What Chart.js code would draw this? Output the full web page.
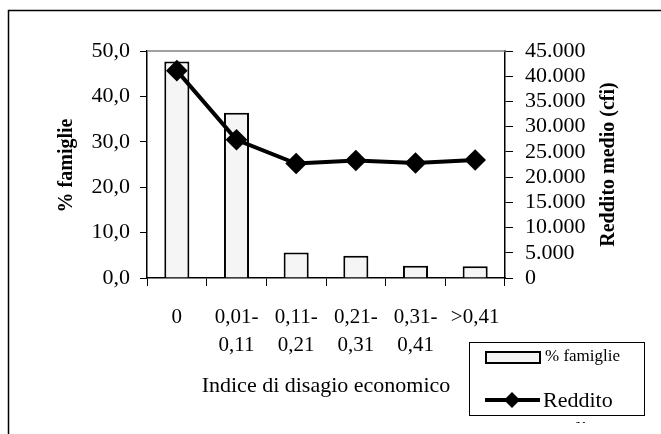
<!DOCTYPE html>
<html>
<head>
<meta charset="utf-8">
<script src="https://cdn.jsdelivr.net/npm/chart.js@4"></script>
<style>
  body { margin: 0; background: #fff; }
  canvas { display: block; }
</style>
</head>
<body>
<canvas id="chart" width="661" height="434"></canvas>
<script>
"use strict";

const categories = [["0"], ["0,01-", "0,11"], ["0,11-", "0,21"], ["0,21-", "0,31"], ["0,31-", "0,41"], [">0,41"]];
const famiglie = [47.7, 36.4, 5.6, 4.9, 2.7, 2.6];
const reddito = [41100, 27400, 22700, 23300, 22800, 23400];
const leftTicks = ["0,0", "10,0", "20,0", "30,0", "40,0", "50,0"];
const rightTicks = ["0", "5.000", "10.000", "15.000", "20.000", "25.000", "30.000", "35.000", "40.000", "45.000"];

const serif = "'Liberation Serif', 'DejaVu Serif', serif";

// frame, titles and the legend box are drawn by hand
const decorations = {
  id: "decorations",
  afterDraw(chart) {
    const ctx = chart.ctx;
    const area = chart.chartArea;
    ctx.save();

    // outer frame (runs off the right and bottom edges)
    ctx.strokeStyle = "#000";
    ctx.lineWidth = 1.5;
    ctx.beginPath();
    ctx.moveTo(8.5, 440);
    ctx.lineTo(8.5, 10.5);
    ctx.lineTo(670, 10.5);
    ctx.stroke();

    // grey top edge of the plot
    ctx.strokeStyle = "#808080";
    ctx.lineWidth = 1.5;
    ctx.beginPath();
    ctx.moveTo(area.left, area.top);
    ctx.lineTo(area.right, area.top);
    ctx.stroke();

    ctx.fillStyle = "#000";
    ctx.textAlign = "center";
    ctx.textBaseline = "middle";

    // axis titles
    ctx.font = "bold 20px " + serif;
    ctx.save();
    ctx.translate(67, (area.top + area.bottom) / 2 + 1);
    ctx.rotate(-Math.PI / 2);
    ctx.fillText("% famiglie", 0, 0);
    ctx.restore();

    ctx.save();
    ctx.translate(609, (area.top + area.bottom) / 2);
    ctx.rotate(-Math.PI / 2);
    ctx.fillText("Reddito medio (cfi)", 0, 0);
    ctx.restore();

    ctx.font = "22px " + serif;
    ctx.fillText("Indice di disagio economico", (area.left + area.right) / 2, 386);

    // legend
    ctx.fillStyle = "#fff";
    ctx.fillRect(469, 342, 175, 73);
    ctx.strokeStyle = "#000";
    ctx.lineWidth = 1;
    ctx.strokeRect(469.5, 342.5, 175, 73);

    ctx.fillStyle = "#f5f5f5";
    ctx.fillRect(486, 352, 54, 11);
    ctx.lineWidth = 2;
    ctx.strokeRect(486, 352, 54, 11);

    ctx.lineWidth = 4;
    ctx.beginPath();
    ctx.moveTo(485, 400);
    ctx.lineTo(540, 400);
    ctx.stroke();
    ctx.fillStyle = "#000";
    ctx.beginPath();
    ctx.moveTo(512, 392);
    ctx.lineTo(520, 400);
    ctx.lineTo(512, 408);
    ctx.lineTo(504, 400);
    ctx.closePath();
    ctx.fill();

    ctx.textAlign = "left";
    ctx.font = "17px " + serif;
    ctx.fillText("% famiglie", 545, 357);
    ctx.font = "22px " + serif;
    ctx.fillText("Reddito", 543, 401);

    // second line of the legend label is cut off just under the box
    ctx.save();
    ctx.beginPath();
    ctx.rect(469, 417, 200, 6);
    ctx.clip();
    ctx.textBaseline = "alphabetic";
    ctx.fillText("medio", 543, 436);
    ctx.restore();

    ctx.restore();
  }
};

const canvas = document.getElementById("chart");
new Chart(canvas, {
  data: {
    labels: categories,
    datasets: [
      {
        type: "line",
        label: "Reddito medio",
        data: reddito,
        yAxisID: "yRight",
        borderColor: "#000",
        backgroundColor: "#000",
        borderWidth: 4,
        tension: 0,
        pointStyle: "rectRot",
        pointRadius: 8,
        order: 0
      },
      {
        type: "bar",
        label: "% famiglie",
        data: famiglie,
        yAxisID: "yLeft",
        backgroundColor: "#f5f5f5",
        borderColor: "#000",
        borderWidth: 2,
        categoryPercentage: 1,
        barPercentage: 0.42,
        order: 1
      }
    ]
  },
  options: {
    responsive: false,
    animation: false,
    layout: { padding: { top: 51, left: 0, right: 0, bottom: 0 } },
    plugins: {
      legend: { display: false },
      tooltip: { enabled: false }
    },
    scales: {
      x: {
        afterFit: (scale) => { scale.height = 156; },
        grid: { offset: true, drawOnChartArea: false, tickLength: 8, color: "#000", lineWidth: 1 },
        border: { color: "#000", width: 1.5 },
        ticks: {
          color: "#000",
          padding: 17,
          maxRotation: 0,
          autoSkip: false,
          font: { family: serif, size: 21, lineHeight: 1.35 }
        }
      },
      yLeft: {
        position: "left",
        min: 0,
        max: 50,
        afterFit: (scale) => { scale.width = 147; },
        grid: { drawOnChartArea: false, tickLength: 7, color: "#000", lineWidth: 1 },
        border: { color: "#000", width: 1.5 },
        ticks: {
          stepSize: 10,
          color: "#000",
          padding: 10,
          autoSkip: false,
          font: { family: serif, size: 22 },
          callback: (v, i) => leftTicks[i]
        }
      },
      yRight: {
        position: "right",
        min: 0,
        max: 45000,
        afterFit: (scale) => { scale.width = 156; },
        grid: { drawOnChartArea: false, tickLength: 8, color: "#000", lineWidth: 1 },
        border: { color: "#000", width: 1.5 },
        ticks: {
          stepSize: 5000,
          color: "#000",
          padding: 12,
          autoSkip: false,
          font: { family: serif, size: 22 },
          callback: (v, i) => rightTicks[i]
        }
      }
    }
  },
  plugins: [decorations]
});
</script>
</body>
</html>
